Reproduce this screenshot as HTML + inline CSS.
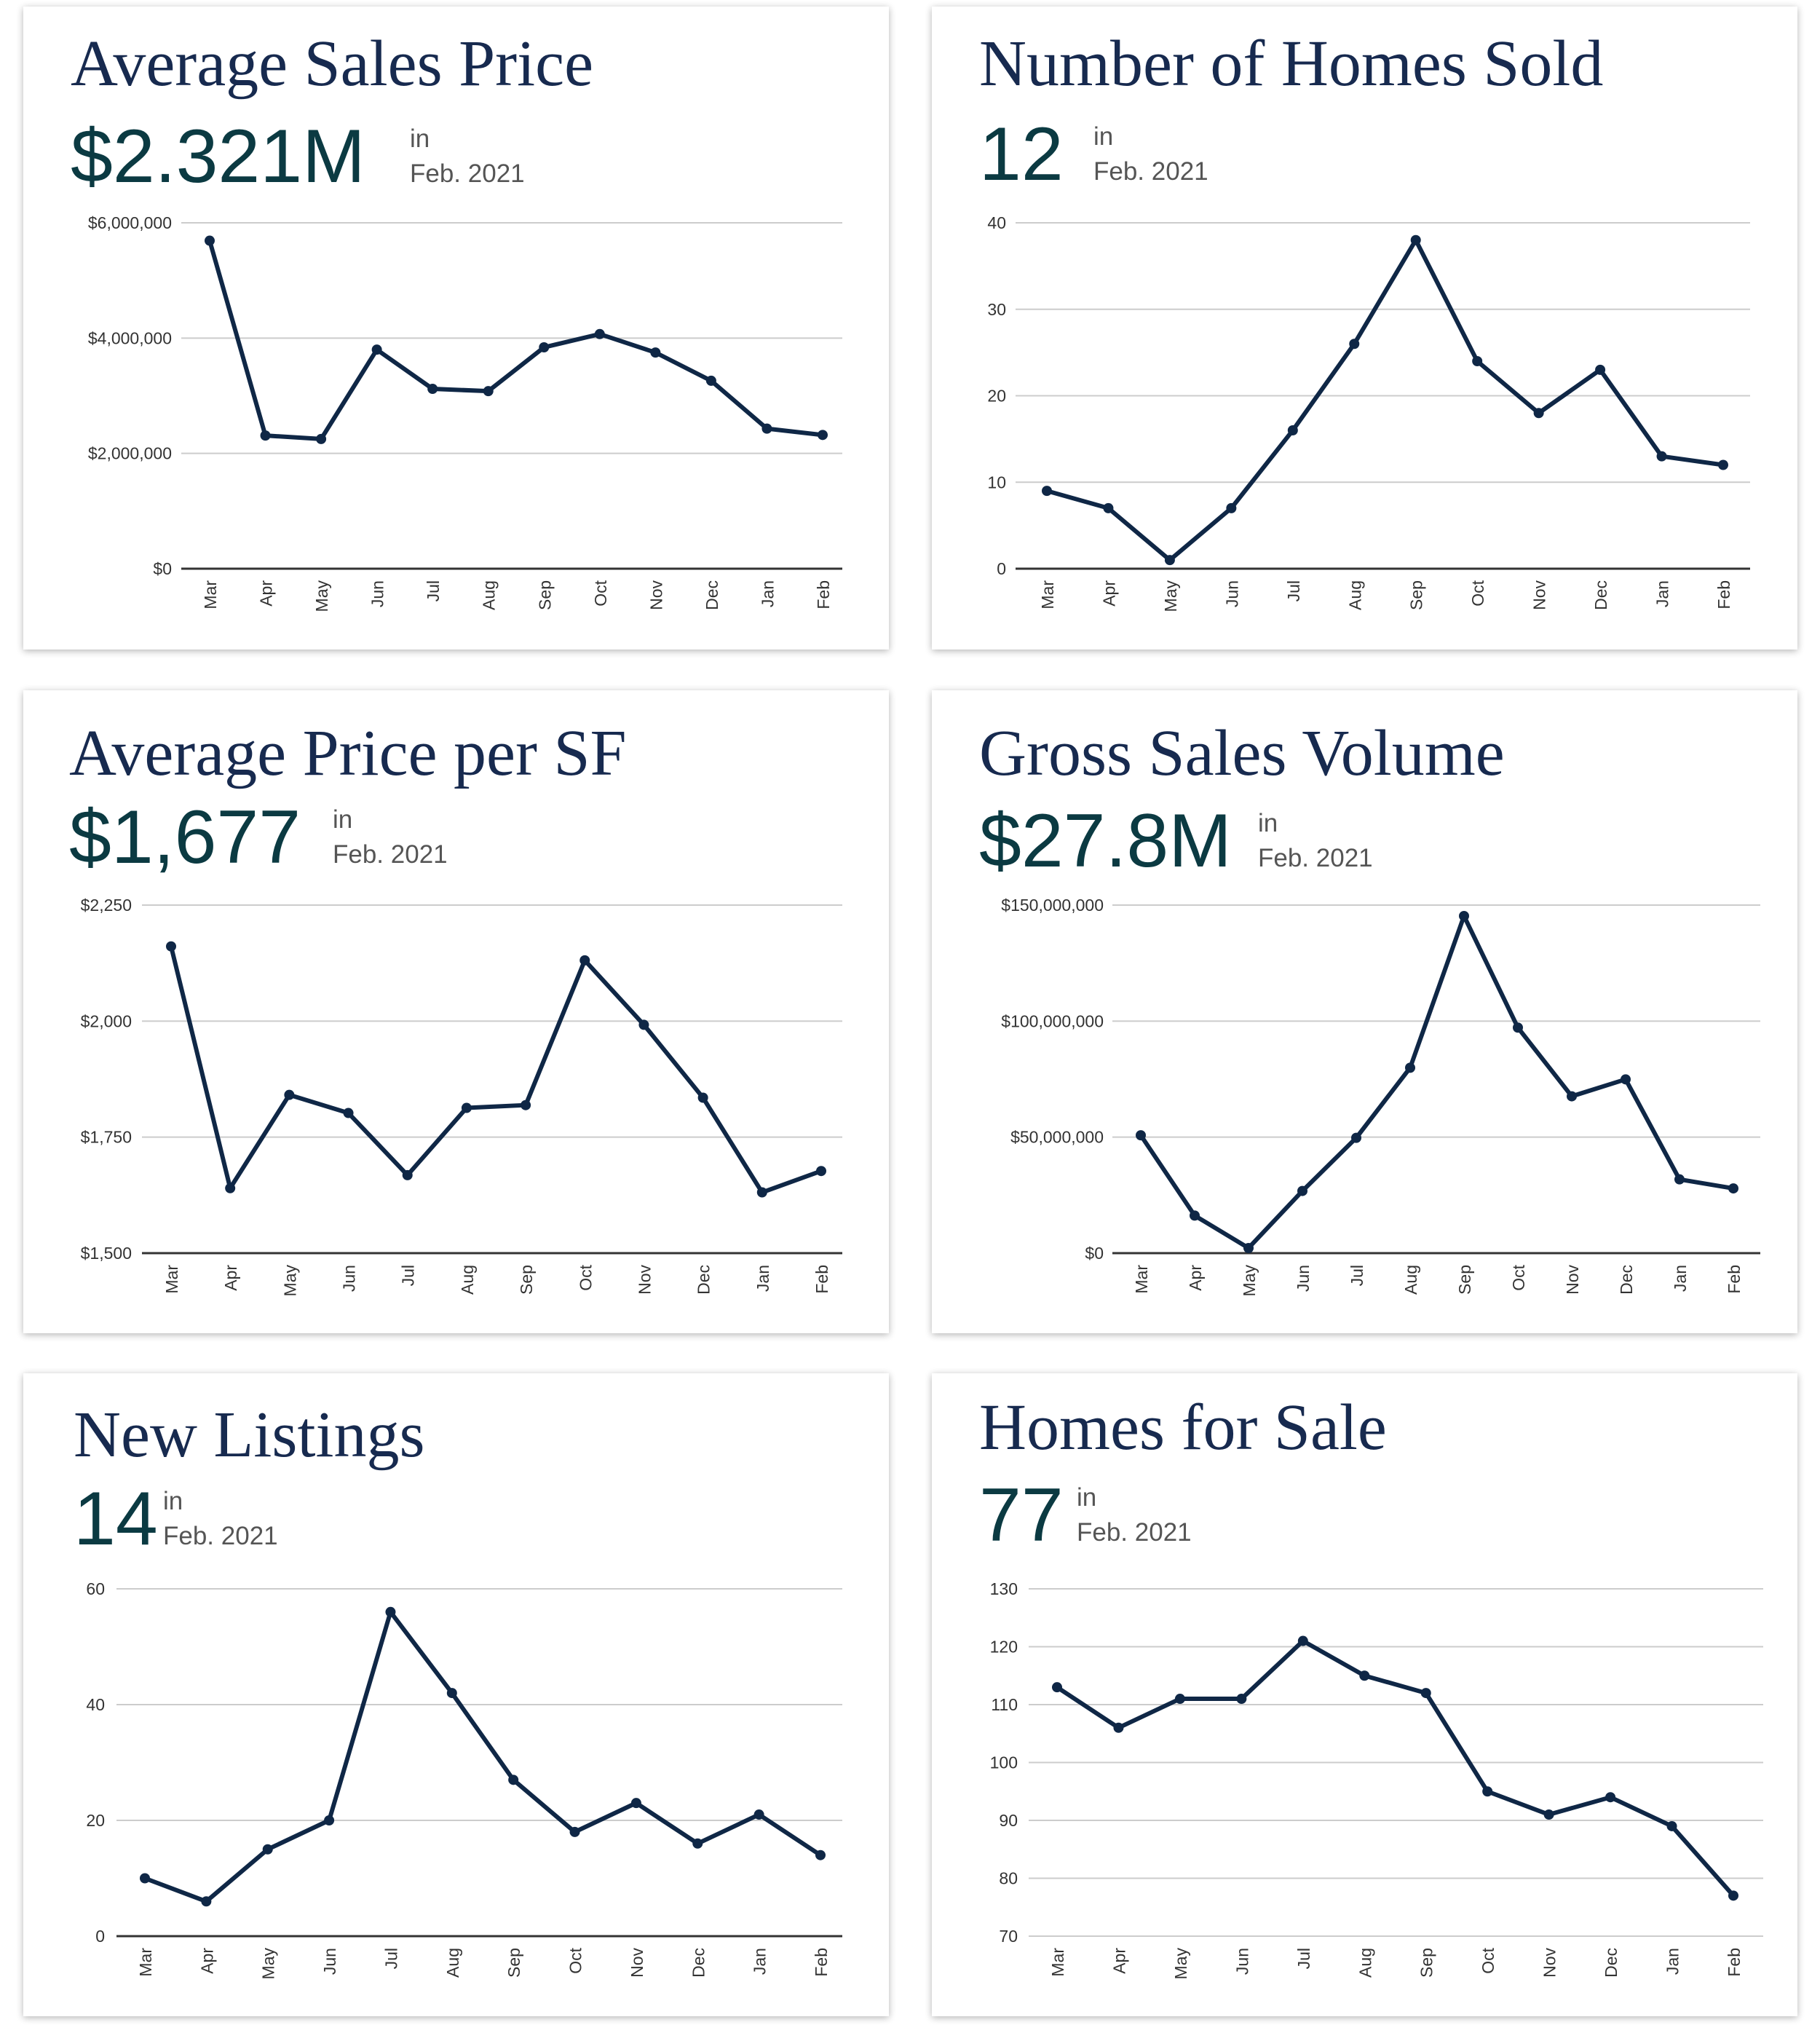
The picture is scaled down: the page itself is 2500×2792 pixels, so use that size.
<!DOCTYPE html>
<html><head><meta charset="utf-8">
<style>
html,body{margin:0;padding:0;background:#fff;}
svg{display:block;}
.title{font-family:"Liberation Serif",serif;font-size:90px;fill:#172a4f;}
.big{font-family:"Liberation Sans",sans-serif;font-size:104px;fill:#0b3a42;}
.sub{font-family:"Liberation Sans",sans-serif;font-size:35px;fill:#555;}
.tick{font-family:"Liberation Sans",sans-serif;font-size:23px;fill:#333;}
</style></head>
<body>
<svg id="root" width="2500" height="2792" viewBox="0 0 2500 2792" xmlns="http://www.w3.org/2000/svg">
<defs>
<filter id="sh" x="-5%" y="-5%" width="110%" height="110%">
<feGaussianBlur in="SourceAlpha" stdDeviation="5"/>
<feOffset dx="0" dy="2"/>
<feComponentTransfer><feFuncA type="linear" slope="0.3"/></feComponentTransfer>
<feMerge><feMergeNode/><feMergeNode in="SourceGraphic"/></feMerge>
</filter>
</defs>
</svg>
<script>
const months = ["Mar","Apr","May","Jun","Jul","Aug","Sep","Oct","Nov","Dec","Jan","Feb"];
const avgPrice = [5.69,2.31,2.25,3.80,3.12,3.08,3.84,4.07,3.75,3.26,2.43,2.32];
const homesSold = [9,7,1,7,16,26,38,24,18,23,13,12];
const pricePerSf = [2161,1640,1841,1802,1668,1813,1819,2131,1992,1835,1631,1677];
const grossVolume = [50.8,16.2,2.2,26.8,49.7,79.9,145.3,97.2,67.6,74.9,31.8,27.9];
const newListings = [10,6,15,20,56,42,27,18,23,16,21,14];
const homesForSale = [113,106,111,111,121,115,112,95,91,94,89,77];
const ticksPrice = ["$0","$2,000,000","$4,000,000","$6,000,000"];
const ticksSold = ["0","10","20","30","40"];
const ticksSf = ["$1,500","$1,750","$2,000","$2,250"];
const ticksVol = ["$0","$50,000,000","$100,000,000","$150,000,000"];
const ticksList = ["0","20","40","60"];
const ticksSale = ["70","80","90","100","110","120","130"];

const NS="http://www.w3.org/2000/svg";
const root=document.getElementById('root');
function mk(tag,attrs,parent){const e=document.createElementNS(NS,tag);for(const k in attrs)e.setAttribute(k,attrs[k]);(parent||root).appendChild(e);return e;}

const panels=[
 {name:"average-sales-price",title:"Average Sales Price",val:"$2.321M",data:avgPrice,ticks:ticksPrice,min:0,max:6,
  px:32,py:9,tx:97,ty:117,vy:250,subx:563,x0:249,x1:1157,m0:288,m1:1130,g0:306,g1:781,lr:236,dark:true},
 {name:"homes-sold",title:"Number of Homes Sold",val:"12",data:homesSold,ticks:ticksSold,min:0,max:40,
  px:1280,py:9,tx:1345,ty:117,vy:247,subx:1502,x0:1395,x1:2404,m0:1438,m1:2367,g0:306,g1:781,lr:1382,dark:true},
 {name:"average-price-per-sf",title:"Average Price per SF",val:"$1,677",data:pricePerSf,ticks:ticksSf,min:1500,max:2250,
  px:32,py:948,tx:95,ty:1064,vy:1185,subx:457,x0:195,x1:1157,m0:235,m1:1128,g0:1243,g1:1721,lr:181,dark:true},
 {name:"gross-sales-volume",title:"Gross Sales Volume",val:"$27.8M",data:grossVolume,ticks:ticksVol,min:0,max:150,
  px:1280,py:948,tx:1345,ty:1064,vy:1190,subx:1728,x0:1528,x1:2418,m0:1567,m1:2381,g0:1243,g1:1721,lr:1516,dark:true},
 {name:"new-listings",title:"New Listings",val:"14",data:newListings,ticks:ticksList,min:0,max:60,
  px:32,py:1886,tx:101,ty:2000,vy:2121,subx:224,x0:160,x1:1157,m0:199,m1:1127,g0:2182,g1:2659,lr:144,dark:true},
 {name:"homes-for-sale",title:"Homes for Sale",val:"77",data:homesForSale,ticks:ticksSale,min:70,max:130,
  px:1280,py:1886,tx:1345,ty:1990,vy:2116,subx:1479,x0:1413,x1:2422,m0:1452,m1:2381,g0:2182,g1:2659,lr:1398,dark:false}
];

panels.forEach(p=>{
  const g=mk('g',{});
  
  
  const card=mk('rect',{x:p.px,y:p.py,width:1189,height:883,fill:'#fff',filter:'url(#sh)'},g);
  
  
  const t=mk('text',{x:p.tx,y:p.ty,class:'title'},g);t.textContent=p.title;
  
  
  const v=mk('text',{x:p.tx,y:p.vy,class:'big'},g);v.textContent=p.val;
  
  
  const s1=mk('text',{x:p.subx,y:p.vy-48,class:'sub'},g);s1.textContent="in";
  
  
  const s2=mk('text',{x:p.subx,y:p.vy,class:'sub'},g);s2.textContent="Feb. 2021";
  
  
  const n=p.ticks.length;
  const yS=val=>p.g1-(val-p.min)/(p.max-p.min)*(p.g1-p.g0);
  const xS=i=>p.m0+i*(p.m1-p.m0)/(months.length-1);
  p.ticks.forEach((lab,i)=>{
    const y=p.g1-i*(p.g1-p.g0)/(n-1);
    const isBase=i===0&&p.dark;
    const l=mk('line',{x1:p.x0,x2:p.x1,y1:y,y2:y,stroke:isBase?'#333':'#ccc','stroke-width':isBase?3:2},g);
    
    
    const tt=mk('text',{x:p.lr,y:y+8,class:'tick','text-anchor':'end'},g);tt.textContent=lab;
    
    
  });
  months.forEach((m,i)=>{
    const x=xS(i)+9,y=p.g1+16;
    const mt=mk('text',{x:x,y:y,class:'tick','text-anchor':'end',transform:`rotate(-90 ${x} ${y})`},g);mt.textContent=m;
    
    
  });
  const pts=p.data.map((d,i)=>xS(i)+','+yS(d)).join(' ');
  const pl=mk('polyline',{points:pts,fill:'none',stroke:'#0f2746','stroke-width':6,'stroke-linejoin':'round'},g);
  
  
  p.data.forEach((d,i)=>{
    const c=mk('circle',{cx:xS(i),cy:yS(d),r:7,fill:'#0f2746'},g);
    
    
  });
});
</script>
</body></html>
